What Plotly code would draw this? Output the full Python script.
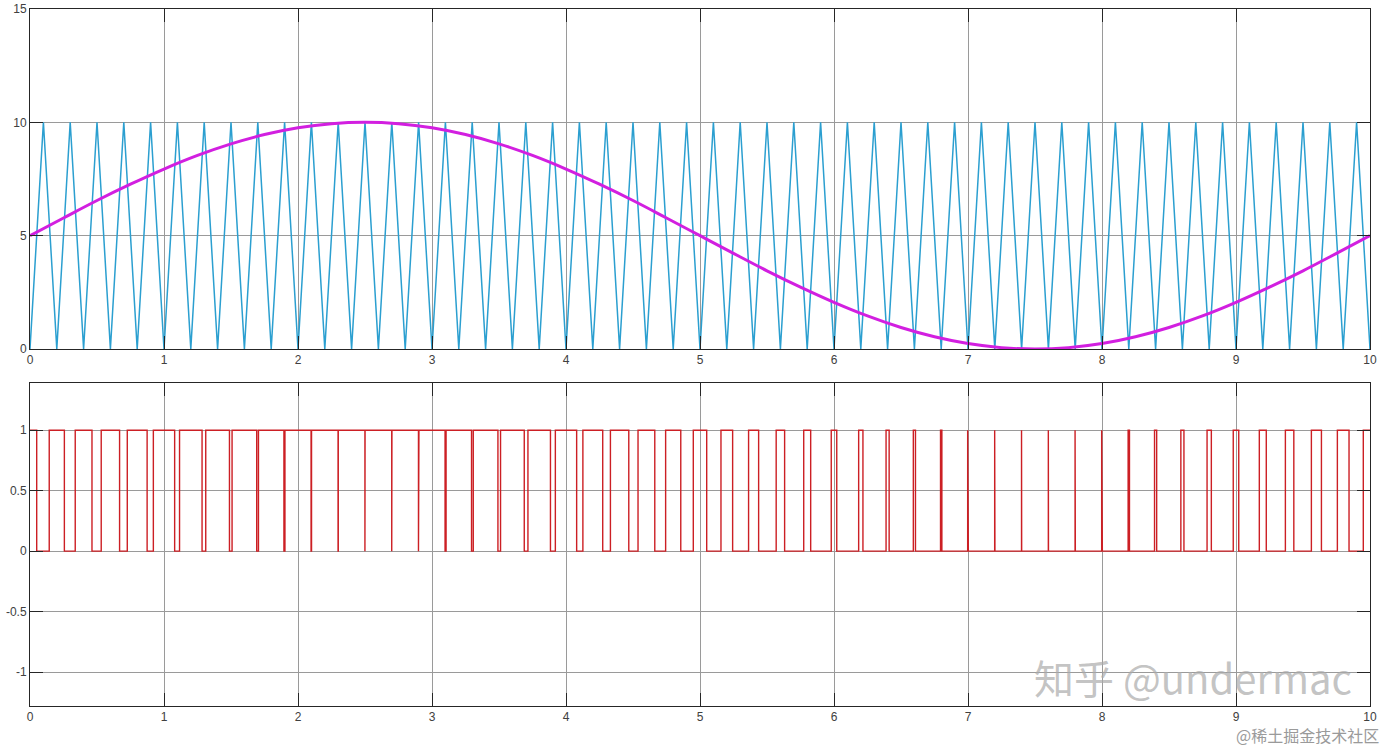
import plotly.graph_objects as go

# ---- data ----
carrier_t = [0.0, 0.1, 0.2, 0.3, 0.4, 0.5, 0.6, 0.7, 0.8, 0.9,
             1.0, 1.1, 1.2, 1.3, 1.4, 1.5, 1.6, 1.7, 1.8, 1.9,
             2.0, 2.1, 2.2, 2.3, 2.4, 2.5, 2.6, 2.7, 2.8, 2.9,
             3.0, 3.1, 3.2, 3.3, 3.4, 3.5, 3.6, 3.7, 3.8, 3.9,
             4.0, 4.1, 4.2, 4.3, 4.4, 4.5, 4.6, 4.7, 4.8, 4.9,
             5.0, 5.1, 5.2, 5.3, 5.4, 5.5, 5.6, 5.7, 5.8, 5.9,
             6.0, 6.1, 6.2, 6.3, 6.4, 6.5, 6.6, 6.7, 6.8, 6.9,
             7.0, 7.1, 7.2, 7.3, 7.4, 7.5, 7.6, 7.7, 7.8, 7.9,
             8.0, 8.1, 8.2, 8.3, 8.4, 8.5, 8.6, 8.7, 8.8, 8.9,
             9.0, 9.1, 9.2, 9.3, 9.4, 9.5, 9.6, 9.7, 9.8, 9.9, 10.0]
carrier_v = [0, 10, 0, 10, 0, 10, 0, 10, 0, 10,
             0, 10, 0, 10, 0, 10, 0, 10, 0, 10,
             0, 10, 0, 10, 0, 10, 0, 10, 0, 10,
             0, 10, 0, 10, 0, 10, 0, 10, 0, 10,
             0, 10, 0, 10, 0, 10, 0, 10, 0, 10,
             0, 10, 0, 10, 0, 10, 0, 10, 0, 10,
             0, 10, 0, 10, 0, 10, 0, 10, 0, 10,
             0, 10, 0, 10, 0, 10, 0, 10, 0, 10,
             0, 10, 0, 10, 0, 10, 0, 10, 0, 10,
             0, 10, 0, 10, 0, 10, 0, 10, 0, 10, 0]

sine_t = [0, 0.25, 0.5, 0.75, 1, 1.25, 1.5, 1.75, 2, 2.25, 2.5, 2.75, 3, 3.25,
          3.5, 3.75, 4, 4.25, 4.5, 4.75, 5, 5.25, 5.5, 5.75, 6, 6.25, 6.5,
          6.75, 7, 7.25, 7.5, 7.75, 8, 8.25, 8.5, 8.75, 9, 9.25, 9.5, 9.75, 10]
sine_v = [5, 5.78, 6.55, 7.27, 7.94, 8.54, 9.05, 9.46, 9.76, 9.94, 10, 9.94,
          9.76, 9.46, 9.05, 8.54, 7.94, 7.27, 6.55, 5.78, 5, 4.22, 3.45, 2.73,
          2.06, 1.46, 0.95, 0.54, 0.24, 0.06, 0, 0.06, 0.24, 0.54, 0.95, 1.46,
          2.06, 2.73, 3.45, 4.22, 5]

# width of each high PWM pulse, centred on each carrier trough (t = 0, 0.2, ... 10)
pulse_width = [0.100, 0.113, 0.125, 0.137, 0.148, 0.159, 0.168, 0.177, 0.184,
               0.190, 0.195, 0.198, 0.199, 0.199, 0.198, 0.195, 0.190, 0.184,
               0.177, 0.168, 0.159, 0.148, 0.137, 0.125, 0.113, 0.100, 0.087,
               0.075, 0.063, 0.052, 0.041, 0.032, 0.023, 0.016, 0.010, 0.005,
               0.002, 0.001, 0.001, 0.002, 0.005, 0.010, 0.016, 0.023, 0.032,
               0.041, 0.052, 0.063, 0.075, 0.087, 0.100]

x_ticks = [0, 1, 2, 3, 4, 5, 6, 7, 8, 9, 10]
y1_ticks = [0, 5, 10, 15]
y2_ticks = [-1, -0.5, 0, 0.5, 1]
y2_labels = ["-1", "-0.5", "0", "0.5", "1"]

# ---- build the PWM step trace from the pulse list ----
troughs = carrier_t[::2]
pwm_x, pwm_y = [], []
n = len(pulse_width)
for k, w in enumerate(pulse_width):
    c = troughs[k]
    a = max(0.0, c - w / 2)
    b = min(10.0, c + w / 2)
    if k == 0:
        pwm_x += [a, b, b]
        pwm_y += [1, 1, 0]
    elif k == n - 1:
        pwm_x += [a, a, b]
        pwm_y += [0, 1, 1]
    else:
        pwm_x += [a, a, b, b]
        pwm_y += [0, 1, 1, 0]

fig = go.Figure()
fig.add_trace(go.Scatter(x=carrier_t, y=carrier_v, mode="lines",
                         line=dict(color="#2b9fd0", width=1.5),
                         xaxis="x", yaxis="y", showlegend=False))
fig.add_trace(go.Scatter(x=sine_t, y=sine_v, mode="lines",
                         line=dict(color="#d21fe0", width=3, shape="spline"),
                         xaxis="x", yaxis="y", showlegend=False))
fig.add_trace(go.Scatter(x=pwm_x, y=pwm_y, mode="lines",
                         line=dict(color="#cc1f24", width=1.4),
                         xaxis="x2", yaxis="y2", showlegend=False))

font = dict(family="Liberation Sans, Arial, sans-serif", size=12, color="#404040")
axis_common = dict(showline=True, linecolor="#262626", linewidth=1, mirror="ticks",
                   ticks="inside", ticklen=13, tickcolor="#262626", tickwidth=1,
                   showgrid=True, gridcolor="#9a9a9a", gridwidth=1,
                   zeroline=False, tickfont=font, automargin=False)

H = 749
plot_bottom = 706
plot_top = 9
ph = plot_bottom - plot_top

fig.update_layout(
    width=1386, height=H, autosize=False,
    margin=dict(l=30, r=16, t=plot_top, b=H - plot_bottom, pad=0),
    paper_bgcolor="white", plot_bgcolor="white",
    xaxis=dict(range=[0, 10], tickvals=x_ticks, anchor="y",
               domain=[0, 1], **axis_common),
    yaxis=dict(range=[0, 15], tickvals=y1_ticks, anchor="x",
               domain=[(plot_bottom - 349) / ph, 1.0], **axis_common),
    xaxis2=dict(range=[0, 10], tickvals=x_ticks, anchor="y2",
                domain=[0, 1], **axis_common),
    yaxis2=dict(range=[-1.28, 1.39], tickvals=y2_ticks, ticktext=y2_labels,
                anchor="x2", domain=[0, (plot_bottom - 383) / ph], **axis_common),
)

fig.add_annotation(text="知乎 @undermac", xref="paper", yref="paper",
                   x=0.988, y=0.0, xanchor="right", yanchor="bottom",
                   yshift=-2, showarrow=False,
                   font=dict(family="Noto Sans CJK SC, sans-serif", size=40,
                             color="rgba(170,170,170,0.7)"))
fig.add_annotation(text="@稀土掘金技术社区", xref="paper", yref="paper",
                   x=1.0, y=0.0, xanchor="right", yanchor="top",
                   xshift=10, yshift=-16, showarrow=False, borderpad=0,
                   font=dict(family="Noto Sans CJK SC, sans-serif", size=16,
                             color="#9a9a9a"))

fig.write_html("out.html", config={"displayModeBar": False},
               post_script="document.body.style.margin='0';document.body.style.overflow='hidden';")
